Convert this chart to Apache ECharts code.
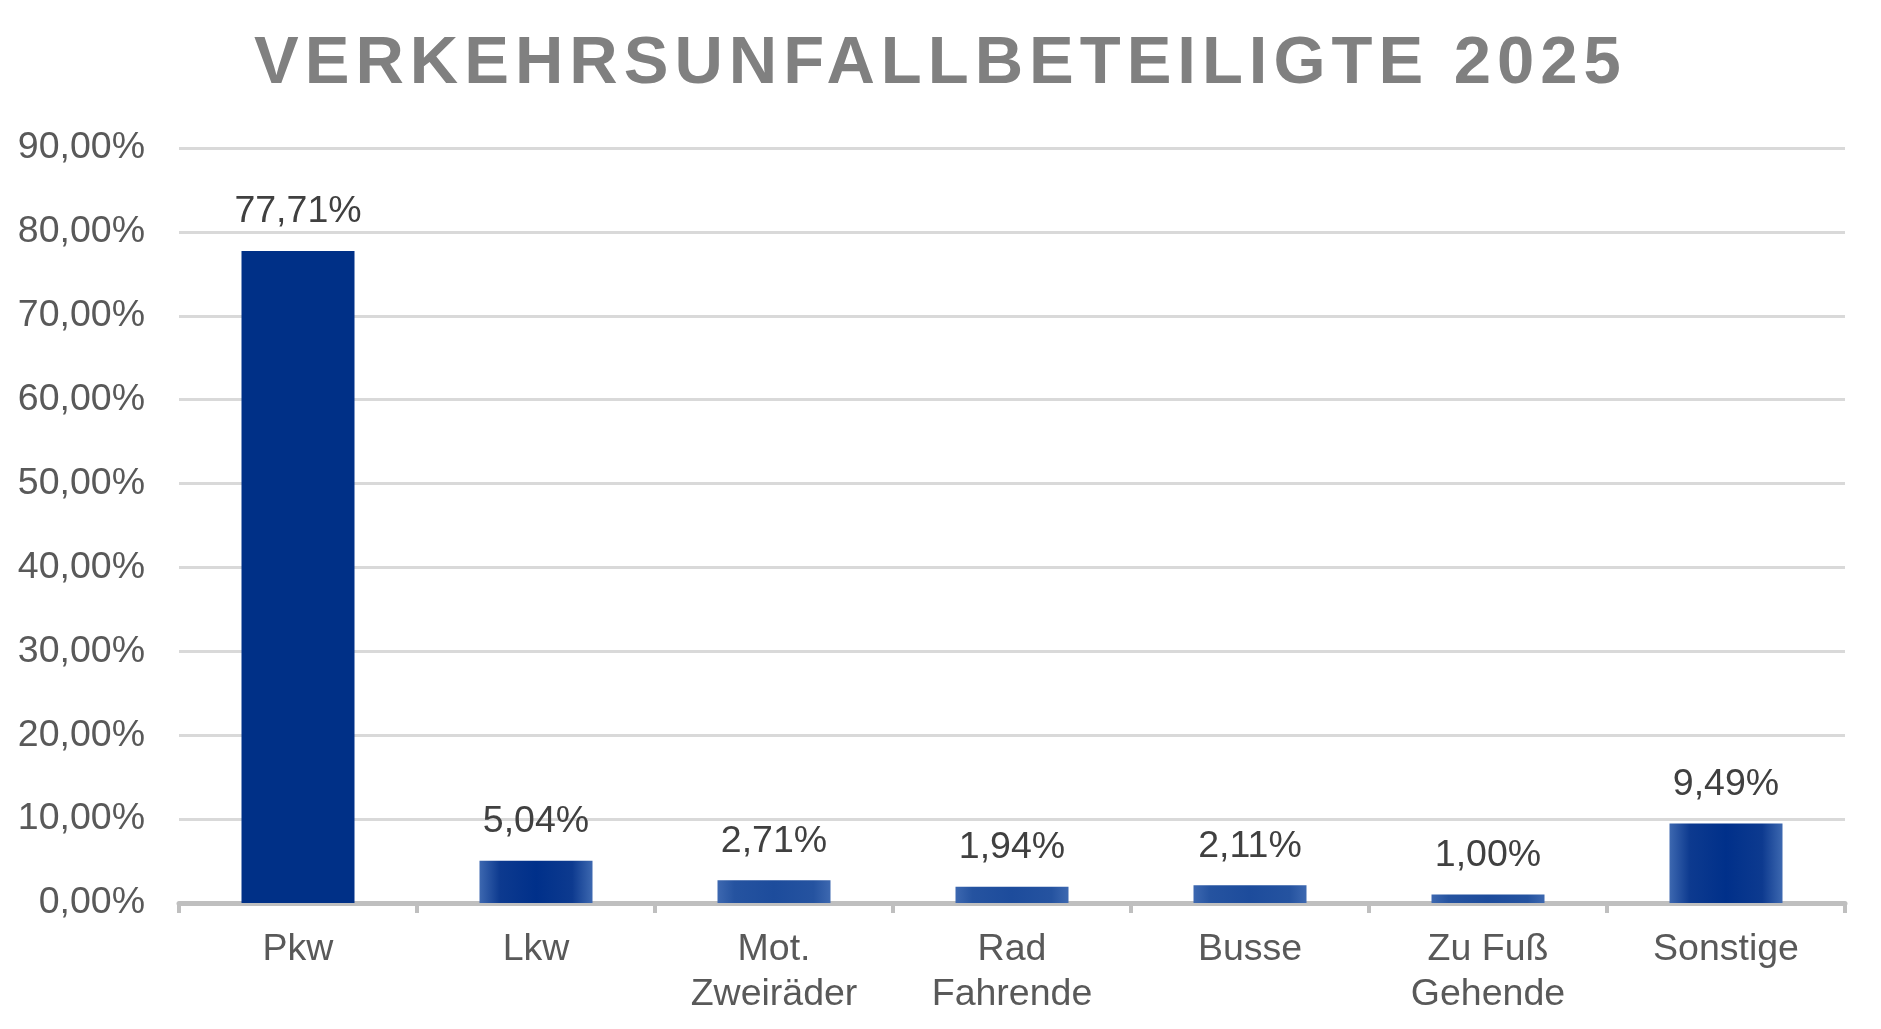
<!DOCTYPE html>
<html>
<head>
<meta charset="utf-8">
<title>Verkehrsunfallbeteiligte 2025</title>
<script src="https://cdn.jsdelivr.net/npm/echarts@6/dist/echarts.min.js"></script>
<style>
  html, body { margin: 0; padding: 0; background: #fff; }
  #wrap { position: relative; width: 1881px; height: 1029px; }
  #chart { position: absolute; left: 0; top: 0; width: 1881px; height: 1029px; }
  #title {
    position: absolute; left: 0; top: 26px; width: 1881px;
    text-align: center; font: bold 67px/67px "Liberation Sans", Arial, sans-serif;
    letter-spacing: 6px; color: #808080; z-index: 2; pointer-events: none;
  }
</style>
</head>
<body>
<div id="wrap">
  <div id="title">VERKEHRSUNFALLBETEILIGTE 2025</div>
  <div id="chart"></div>
</div>
<script>
const categories = ['Pkw', 'Lkw', 'Mot.\nZweiräder', 'Rad\nFahrende', 'Busse', 'Zu Fuß\nGehende', 'Sonstige'];
const shares = [77.71, 5.04, 2.71, 1.94, 2.11, 1.00, 9.49];
const yTicks = { min: 0, max: 90, interval: 10 };

const fmtPct = (v) => v.toFixed(2).replace('.', ',') + '%';

// Excel-style soft edge: dark middle, lighter rim at the sides
const glow = (v) => ({
  type: 'linear', x: 0, y: 0, x2: 1, y2: 0,
  colorStops: v < 4 ? [
    { offset: 0, color: '#3d68b0' },
    { offset: 0.15, color: '#2553a0' },
    { offset: 0.5, color: '#1d4c9c' },
    { offset: 0.85, color: '#2553a0' },
    { offset: 1, color: '#3d68b0' }
  ] : [
    { offset: 0, color: '#3d68b0' },
    { offset: 0.18, color: '#0d3a8f' },
    { offset: 0.5, color: '#00308a' },
    { offset: 0.82, color: '#0d3a8f' },
    { offset: 1, color: '#3d68b0' }
  ]
});

const barData = shares.map((v, i) => ({
  value: v,
  itemStyle: { color: i === 0 ? '#003087' : glow(v) }
}));

const chart = echarts.init(document.getElementById('chart'), null, { renderer: 'canvas' });

chart.setOption({
  animation: false,
  textStyle: { fontFamily: '"Liberation Sans", Arial, sans-serif' },
  grid: { left: 179, right: 36, top: 148, bottom: 126, containLabel: false },
  xAxis: {
    type: 'category',
    data: categories,
    axisLine: { lineStyle: { color: '#bfbfbf', width: 5 } },
    axisTick: { show: true, length: 10, lineStyle: { color: '#bfbfbf', width: 4 } },
    axisLabel: { color: '#595959', fontSize: 37.5, lineHeight: 45, margin: 24, interval: 0 }
  },
  yAxis: {
    type: 'value',
    min: yTicks.min, max: yTicks.max, interval: yTicks.interval,
    axisLine: { show: false },
    axisTick: { show: false },
    axisLabel: { color: '#595959', fontSize: 37.5, margin: 34, formatter: fmtPct },
    splitLine: { lineStyle: { color: '#d9d9d9', width: 3 } }
  },
  series: [{
    type: 'bar',
    data: barData,
    barWidth: 113,
    label: {
      show: true, position: 'top', distance: 20,
      color: '#404040', fontSize: 37.5, lineHeight: 38,
      formatter: (p) => fmtPct(p.value)
    }
  }]
});

window.addEventListener('resize', () => chart.resize());
</script>
</body>
</html>
